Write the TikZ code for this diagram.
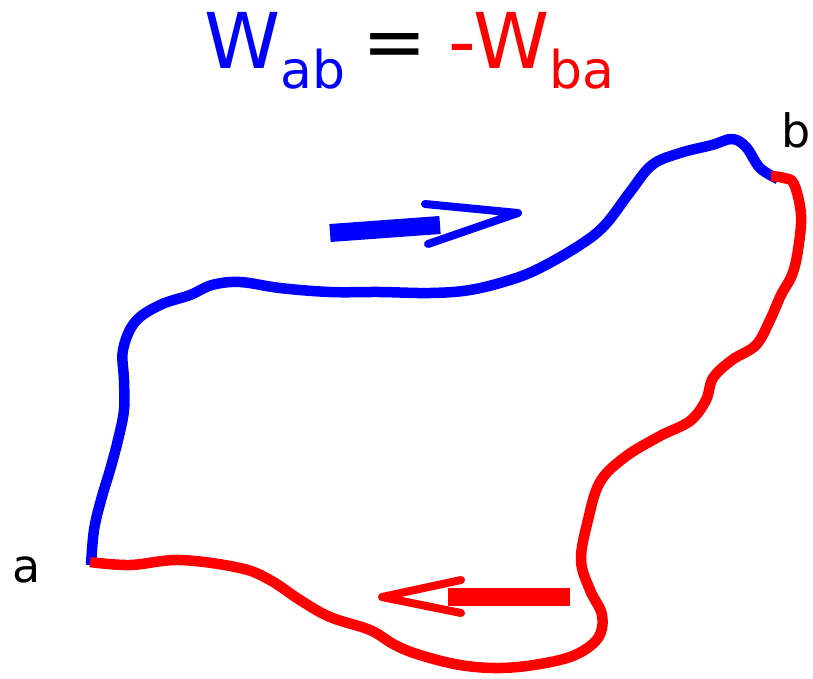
\documentclass[tikz,border=0pt]{standalone}
\usepackage{fontspec}
\setmainfont{DejaVu Sans}
\usepackage{tikz}
\usetikzlibrary{arrows}

\begin{document}
\begin{tikzpicture}[x=1pt,y=-1pt,
	trail/.style={line width=10.5pt,line join=round},
	shaft/.style={line width=18pt},
	tip/.style={line width=8pt,line cap=round,line join=round}]
		\useasboundingbox (0,0) rectangle (813,678);
		% the way from a to b
		\draw[trail,blue] plot[smooth,tension=0.6] coordinates {(91,565) (94,530) (101,500) (110,470) (118,440) (124,410) (124,380) (123,350) (135,322) (160,305) (190,295) (212,285) (240,282) (280,288) (330,292) (380,292) (430,293) (470,290) (510,280) (540,268) (580,245) (605,225) (630,192) (652,165) (680,153) (712,145) (732,139) (746,147) (760,168) (778,179)};
		% the way back from b to a
		\draw[trail,red] plot[smooth,tension=0.6] coordinates {(90,562) (130,565) (180,560) (240,568) (270,580) (300,600) (330,617) (370,630) (395,645) (420,655) (460,665) (500,668) (540,664) (575,655) (598,638) (602,615) (590,590) (581,560) (588,520) (600,482) (625,457) (660,436) (690,421) (706,400) (713,378) (732,360) (756,345) (770,320) (781,295) (792,275) (798,250) (801,215) (794,184) (784,178) (771,176)};
		\node (a) at (27,570) {\fontsize{46}{50}\selectfont a};
		\node (b) at (796,130) {\fontsize{46}{50}\selectfont b};
		% arrows
		\draw[shaft,blue] (330,233) -- (440,225);
		\draw[tip,blue] (425,204) -- (518,213) -- (428,244);
		\draw[shaft,red] (448,597) -- (570,597);
		\draw[tip,red] (461,580) -- (382,597) -- (461,613);
		\node[anchor=base west,inner sep=0pt] (title) at (204,68) {\fontsize{77}{80}\selectfont\color{blue}W\raisebox{-20pt}{\fontsize{52}{56}\selectfont ab}\hspace{17pt}\color{black}=\hspace{22pt}\color{red}-W\raisebox{-20pt}{\fontsize{52}{56}\selectfont ba}};
\end{tikzpicture}
\end{document}
